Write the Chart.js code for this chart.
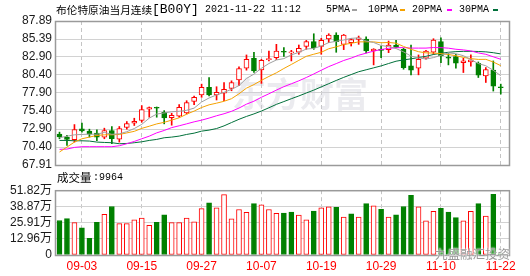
<!DOCTYPE html>
<html lang="zh">
<head>
<meta charset="utf-8">
<title>布伦特原油当月连续</title>
<script src="https://cdn.jsdelivr.net/npm/chart.js@4.4.0/dist/chart.umd.min.js"></script>
<style>
  html, body { margin: 0; padding: 0; background: #fff; }
  #wrap { position: relative; width: 530px; height: 276px; overflow: hidden; }
  .box { position: absolute; left: 0; width: 530px; }
  #priceBox { top: 0; height: 176px; }
  #volBox { top: 180px; height: 96px; }
  .txt { position: absolute; white-space: nowrap; color: #000; line-height: 12px; }
  .cjk { font-family: "Noto Sans CJK SC", sans-serif; font-size: 10.7px; }
  .mono { font-family: "Liberation Mono", monospace; font-size: 10px; }
  .dash { position: absolute; width: 5px; height: 2px; }
  .mark { position: absolute; left: 435px; top: 244px; font: 12.5px "Noto Sans CJK SC", sans-serif;
          color: #9a9a9a; text-shadow: 0 0 2px #fff, 0 0 2px #fff; }
</style>
</head>
<body>
<div id="wrap">
  <div class="box" id="priceBox"><canvas id="priceChart" width="530" height="176"></canvas></div>
  <div class="box" id="volBox"><canvas id="volChart" width="530" height="96"></canvas></div>

  <!-- title + legend -->
  <span class="txt cjk" style="left:56px;top:4px">布伦特原油当月连续</span>
  <span class="txt mono" style="left:152px;top:4px;font-size:13px">[B00Y]</span>
  <span class="txt mono" style="left:205px;top:4px">2021-11-22 11:12</span>
  <div id="legend"></div>

  <span class="txt cjk" style="left:57px;top:171px;font-size:11.5px">成交量</span>
  <span class="txt mono" style="left:93px;top:172px">:9964</span>

  <span class="mark">九盛融汇投资</span>
</div>

<script>
// ======================================================
//                      DATA
// ======================================================

const dates = [
  "08-31", "09-01", "09-02", "09-03", "09-06", "09-07", "09-08", "09-09", "09-10", "09-13",
  "09-14", "09-15", "09-16", "09-17", "09-20", "09-21", "09-22", "09-23", "09-24", "09-27",
  "09-28", "09-29", "09-30", "10-01", "10-04", "10-05", "10-06", "10-07", "10-08", "10-11",
  "10-12", "10-13", "10-14", "10-15", "10-18", "10-19", "10-20", "10-21", "10-22", "10-25",
  "10-26", "10-27", "10-28", "10-29", "11-01", "11-02", "11-03", "11-04", "11-05", "11-08",
  "11-09", "11-10", "11-11", "11-12", "11-15", "11-16", "11-17", "11-18", "11-19", "11-22"
];
const dateTicks = [3, 11, 19, 27, 35, 43, 51, 59];

const openP = [
  72.19, 71.78, 71.41, 72.93, 72.60, 72.33, 71.78, 72.70, 71.50, 73.11,
  73.71, 74.08, 75.64, 75.87, 75.23, 74.49, 74.67, 75.13, 76.74, 77.62,
  78.67, 77.62, 77.89, 78.54, 79.73, 81.34, 82.72, 81.11, 82.54, 82.81,
  83.69, 83.46, 83.55, 84.38, 85.02, 84.38, 85.39, 85.94, 84.65, 84.88,
  85.34, 85.39, 83.73, 83.92, 83.92, 84.56, 83.96, 81.66, 81.34, 82.72,
  83.55, 85.02, 82.90, 82.95, 82.12, 82.21, 82.03, 80.28, 81.07, 78.72
];
const highP = [
  72.47, 72.01, 73.52, 73.71, 72.88, 72.79, 73.02, 73.25, 73.25, 73.94,
  74.40, 76.15, 75.96, 75.96, 75.46, 75.09, 76.28, 76.83, 77.48, 79.13,
  80.05, 78.77, 79.36, 79.59, 81.52, 83.18, 83.55, 82.58, 83.73, 84.65,
  84.19, 83.82, 84.56, 85.20, 86.12, 85.48, 86.12, 86.26, 86.03, 85.43,
  85.80, 85.71, 84.05, 84.42, 85.11, 85.20, 84.10, 84.56, 83.18, 83.82,
  85.43, 85.57, 83.36, 83.27, 82.72, 83.18, 82.21, 81.43, 82.35, 79.13
];
const lowP = [
  71.55, 70.63, 71.09, 72.47, 71.78, 71.27, 71.55, 70.86, 71.09, 72.88,
  73.39, 73.85, 74.54, 74.54, 73.62, 73.43, 74.54, 74.99, 76.28, 77.30,
  77.48, 76.93, 76.83, 78.21, 78.90, 81.07, 80.74, 79.23, 82.35, 82.54,
  82.99, 82.35, 83.27, 83.96, 83.96, 83.27, 84.88, 83.55, 83.92, 84.42,
  84.65, 83.46, 81.80, 82.81, 83.50, 84.19, 81.20, 80.42, 80.42, 82.58,
  83.27, 82.12, 81.80, 81.34, 80.74, 81.62, 80.05, 79.36, 78.17, 77.75
];
const closeP = [
  71.82, 71.46, 72.83, 72.65, 72.19, 71.78, 72.70, 71.55, 72.97, 73.66,
  73.98, 75.59, 75.87, 75.78, 74.44, 74.81, 75.91, 76.56, 77.30, 78.67,
  77.62, 77.98, 78.40, 79.36, 81.29, 82.58, 80.97, 82.44, 82.67, 83.73,
  83.55, 83.59, 84.10, 85.02, 84.19, 85.20, 85.94, 85.02, 85.94, 85.30,
  85.57, 83.73, 84.01, 83.82, 84.56, 84.24, 81.43, 81.07, 82.58, 83.73,
  85.25, 83.04, 82.72, 82.03, 82.35, 82.49, 80.38, 81.16, 78.86, 78.63
];

// moving averages
const ma5 = [
  71.70, 71.90, 72.10, 72.15, 72.19, 72.18, 72.43, 72.17, 72.24, 72.53,
  72.97, 73.55, 74.41, 74.98, 75.13, 75.30, 75.36, 75.50, 75.80, 76.65,
  77.21, 77.63, 77.99, 78.41, 78.93, 79.92, 80.52, 81.33, 81.99, 82.48,
  82.67, 83.20, 83.53, 84.00, 84.09, 84.42, 84.89, 85.07, 85.26, 85.48,
  85.55, 85.11, 84.91, 84.49, 84.34, 84.07, 83.61, 83.02, 82.78, 82.61,
  82.81, 83.13, 83.46, 83.35, 83.08, 82.53, 81.99, 81.68, 81.05, 80.30
];
const ma10 = [
  69.71, 70.40, 71.09, 71.55, 71.78, 72.01, 72.10, 72.10, 72.15, 72.36,
  72.58, 72.99, 73.29, 73.61, 73.83, 74.14, 74.46, 74.96, 75.39, 75.89,
  76.26, 76.49, 76.75, 77.11, 77.79, 78.57, 79.07, 79.66, 80.20, 80.70,
  81.30, 81.86, 82.43, 82.99, 83.28, 83.55, 84.04, 84.30, 84.63, 84.79,
  84.99, 85.00, 84.99, 84.87, 84.91, 84.81, 84.36, 83.97, 83.63, 83.47,
  83.44, 83.37, 83.24, 83.07, 82.84, 82.67, 82.56, 82.57, 82.20, 81.69
];
const ma20 = [
  70.08, 70.12, 70.35, 70.45, 70.45, 70.45, 70.45, 70.45, 70.58, 70.86,
  71.18, 71.55, 71.91, 72.37, 72.70, 73.10, 73.35, 73.62, 73.90, 74.13,
  74.42, 74.74, 75.02, 75.36, 75.81, 76.35, 76.76, 77.31, 77.79, 78.30,
  78.78, 79.18, 79.59, 80.05, 80.54, 81.06, 81.56, 81.98, 82.41, 82.74,
  83.14, 83.43, 83.71, 83.93, 84.10, 84.18, 84.20, 84.13, 84.13, 84.13,
  84.21, 84.19, 84.12, 83.97, 83.88, 83.74, 83.46, 83.27, 82.92, 82.58
];
const ma30 = [
  71.32, 71.32, 71.27, 71.27, 71.23, 71.09, 71.04, 71.00, 70.86, 70.90,
  71.00, 71.13, 71.32, 71.46, 71.69, 71.78, 71.92, 72.15, 72.33, 72.61,
  72.75, 72.97, 73.34, 73.80, 74.25, 74.65, 75.00, 75.40, 75.85, 76.32,
  76.71, 77.11, 77.49, 77.90, 78.30, 78.75, 79.19, 79.64, 80.07, 80.46,
  80.85, 81.12, 81.39, 81.66, 81.99, 82.31, 82.49, 82.64, 82.82, 82.99,
  83.24, 83.41, 83.55, 83.64, 83.68, 83.68, 83.66, 83.61, 83.49, 83.32
];

// volume in 万, with the bar colour (r = up, g = down)
const volume = [
  27.6, 29.1, 25.9, 21.7, 13.4, 26.1, 32.6, 38.8, 25.1, 25.1,
  28.1, 29.6, 23.7, 26.1, 32.1, 25.9, 25.9, 29.6, 26.6, 37.1,
  41.8, 37.8, 48.3, 28.9, 36.4, 34.1, 41.1, 40.1, 36.4, 33.4,
  33.6, 34.4, 31.9, 28.1, 35.1, 37.8, 38.6, 38.1, 30.4, 32.9,
  30.4, 41.1, 39.3, 36.6, 30.4, 32.1, 38.8, 47.8, 38.6, 27.4,
  34.9, 37.4, 34.4, 29.9, 27.4, 34.9, 41.1, 31.1, 48.6, 0.9964
];
const volDir = [
  "g", "g", "r", "g", "g", "g", "r", "g", "r", "r",
  "r", "r", "r", "g", "g", "r", "r", "r", "r", "r",
  "g", "r", "r", "r", "r", "r", "g", "r", "r", "r",
  "g", "g", "r", "r", "g", "r", "r", "g", "r", "g",
  "r", "g", "r", "g", "r", "g", "g", "g", "r", "r",
  "r", "g", "g", "g", "r", "r", "g", "r", "g", "g"
];

const priceTicks = [67.91, 70.40, 72.90, 75.40, 77.90, 80.40, 82.90, 85.39, 87.89];
const volTicks = [0, 12.96, 25.91, 38.87, 51.82];
const volTickText = ["0", "12.96万", "25.91万", "38.87万", "51.82万"];

const maSeries = [
  { name: "5PMA", values: ma5, color: "#a0a0a0" },
  { name: "10PMA", values: ma10, color: "#f5a200" },
  { name: "20PMA", values: ma20, color: "#ff00ff" },
  { name: "30PMA", values: ma30, color: "#00703a" }
];

// ======================================================
//                    STYLE
// ======================================================

const UP = "#ff0000";
const DOWN = "#008000";
const GRID = "#d2d2d2";
const FRAME = "#9a9a9a";
const X_MIN = -0.6;
const X_MAX = 60.1;
const AXIS_FONT = { family: "'Liberation Sans', 'Noto Sans CJK SC', sans-serif", size: 12 };

// legend boxes at the top right
const legendPos = [[326, 352], [368, 400], [412, 447], [459, 493]];
const legend = document.getElementById("legend");
maSeries.forEach((s, i) => {
  legend.innerHTML += `
    <span class="txt mono" style="left:${legendPos[i][0]}px;top:4px">${s.name}</span>
    <span class="dash" style="left:${legendPos[i][1]}px;top:9px;background:${s.color}"></span>`;
});

// ======================================================
//                    PLUGINS
// ======================================================

const framePlugin = {
  id: "frame",
  afterDatasetsDraw(chart) {
    const a = chart.chartArea;
    const ctx = chart.ctx;
    ctx.save();
    ctx.strokeStyle = FRAME;
    ctx.lineWidth = 1.5;
    ctx.strokeRect(a.left + 0.5, a.top + 0.5, a.right - a.left, a.bottom - a.top);
    ctx.restore();
  }
};

const watermarkPlugin = {
  id: "watermark",
  beforeDatasetsDraw(chart) {
    const ctx = chart.ctx;
    ctx.save();
    ctx.fillStyle = "rgba(205, 205, 215, 0.4)";
    ctx.font = "bold 34px 'Noto Sans CJK SC'";
    ctx.textBaseline = "middle";
    ctx.fillText("东方财富", 232, 94);
    ctx.restore();
  }
};

function hGrid(ctx) {
  const n = ctx.scale.ticks.length;
  return ctx.index === 0 || ctx.index === n - 1 ? "rgba(0,0,0,0)" : GRID;
}

function xScale(showLabels) {
  return {
    type: "linear",
    offset: false,
    min: X_MIN,
    max: X_MAX,
    afterBuildTicks: ax => { ax.ticks = dateTicks.map(v => ({ value: v })); },
    afterFit: ax => { ax.height = showLabels ? 21 : 0; },
    ticks: {
      display: showLabels,
      autoSkip: false,
      maxRotation: 0,
      padding: 4,
      color: UP,
      font: AXIS_FONT,
      callback: v => dates[v]
    },
    grid: { offset: false, color: "#c4c4c4", drawTicks: false, tickLength: 0 },
    border: { display: false, dash: [4, 3] }
  };
}

// ======================================================
//                 PRICE (CANDLES + MA)
// ======================================================

const isUp = closeP.map((c, i) => c >= openP[i]);

const bodies = openP.map((o, i) => ({ x: i, y: [o, closeP[i]] }));
const wicks = lowP.map((l, i) => ({ x: i, y: [l, highP[i]] }));

const maDatasets = maSeries.map(s => ({
  type: "line",
  label: s.name,
  data: s.values.map((v, i) => ({ x: i, y: v })),
  borderColor: s.color,
  borderWidth: 1,
  pointRadius: 0,
  tension: 0,
  order: -1
}));

new Chart(document.getElementById("priceChart"), {
  data: {
    datasets: [
      ...maDatasets,
      {
        type: "bar",
        label: "body",
        data: bodies,
        backgroundColor: isUp.map(u => (u ? "#ffffff" : DOWN)),
        borderColor: isUp.map(u => (u ? UP : DOWN)),
        borderWidth: 1,
        borderSkipped: false,
        barThickness: 5,
        minBarLength: 1,
        grouped: false,
        order: 1
      },
      {
        type: "bar",
        label: "wick",
        data: wicks,
        backgroundColor: isUp.map(u => (u ? UP : DOWN)),
        barThickness: 1,
        grouped: false,
        order: 2
      }
    ]
  },
  options: {
    responsive: false,
    animation: false,
    layout: { padding: { top: 21, right: 21, bottom: 11, left: 0 } },
    plugins: { legend: { display: false }, tooltip: { enabled: false } },
    scales: {
      x: xScale(false),
      y: {
        min: 67.91,
        max: 87.89,
        afterBuildTicks: ax => { ax.ticks = priceTicks.map(v => ({ value: v })); },
        afterFit: ax => { ax.width = 55; },
        ticks: {
          autoSkip: false,
          padding: 3,
          color: "#1a1a1a",
          font: AXIS_FONT,
          callback: v => v.toFixed(2)
        },
        grid: { color: hGrid, drawTicks: false },
        border: { display: false }
      }
    }
  },
  plugins: [watermarkPlugin, framePlugin]
});

// ======================================================
//                      VOLUME
// ======================================================

new Chart(document.getElementById("volChart"), {
  type: "bar",
  data: {
    datasets: [{
      data: volume.map((v, i) => ({ x: i, y: v })),
      backgroundColor: volDir.map(d => (d === "r" ? "#ffffff" : DOWN)),
      borderColor: volDir.map(d => (d === "r" ? UP : DOWN)),
      borderWidth: 1,
      borderSkipped: false,
      barThickness: 5
    }]
  },
  options: {
    responsive: false,
    animation: false,
    layout: { padding: { top: 7, right: 21, bottom: 0, left: 0 } },
    plugins: { legend: { display: false }, tooltip: { enabled: false } },
    scales: {
      x: xScale(true),
      y: {
        min: 0,
        max: 51.82,
        afterBuildTicks: ax => { ax.ticks = volTicks.map(v => ({ value: v })); },
        afterFit: ax => { ax.width = 55; },
        ticks: {
          autoSkip: false,
          padding: 3,
          color: "#1a1a1a",
          font: AXIS_FONT,
          callback: (v, i) => volTickText[i]
        },
        grid: { color: hGrid, drawTicks: false },
        border: { display: false }
      }
    }
  },
  plugins: [framePlugin]
});
</script>
</body>
</html>
